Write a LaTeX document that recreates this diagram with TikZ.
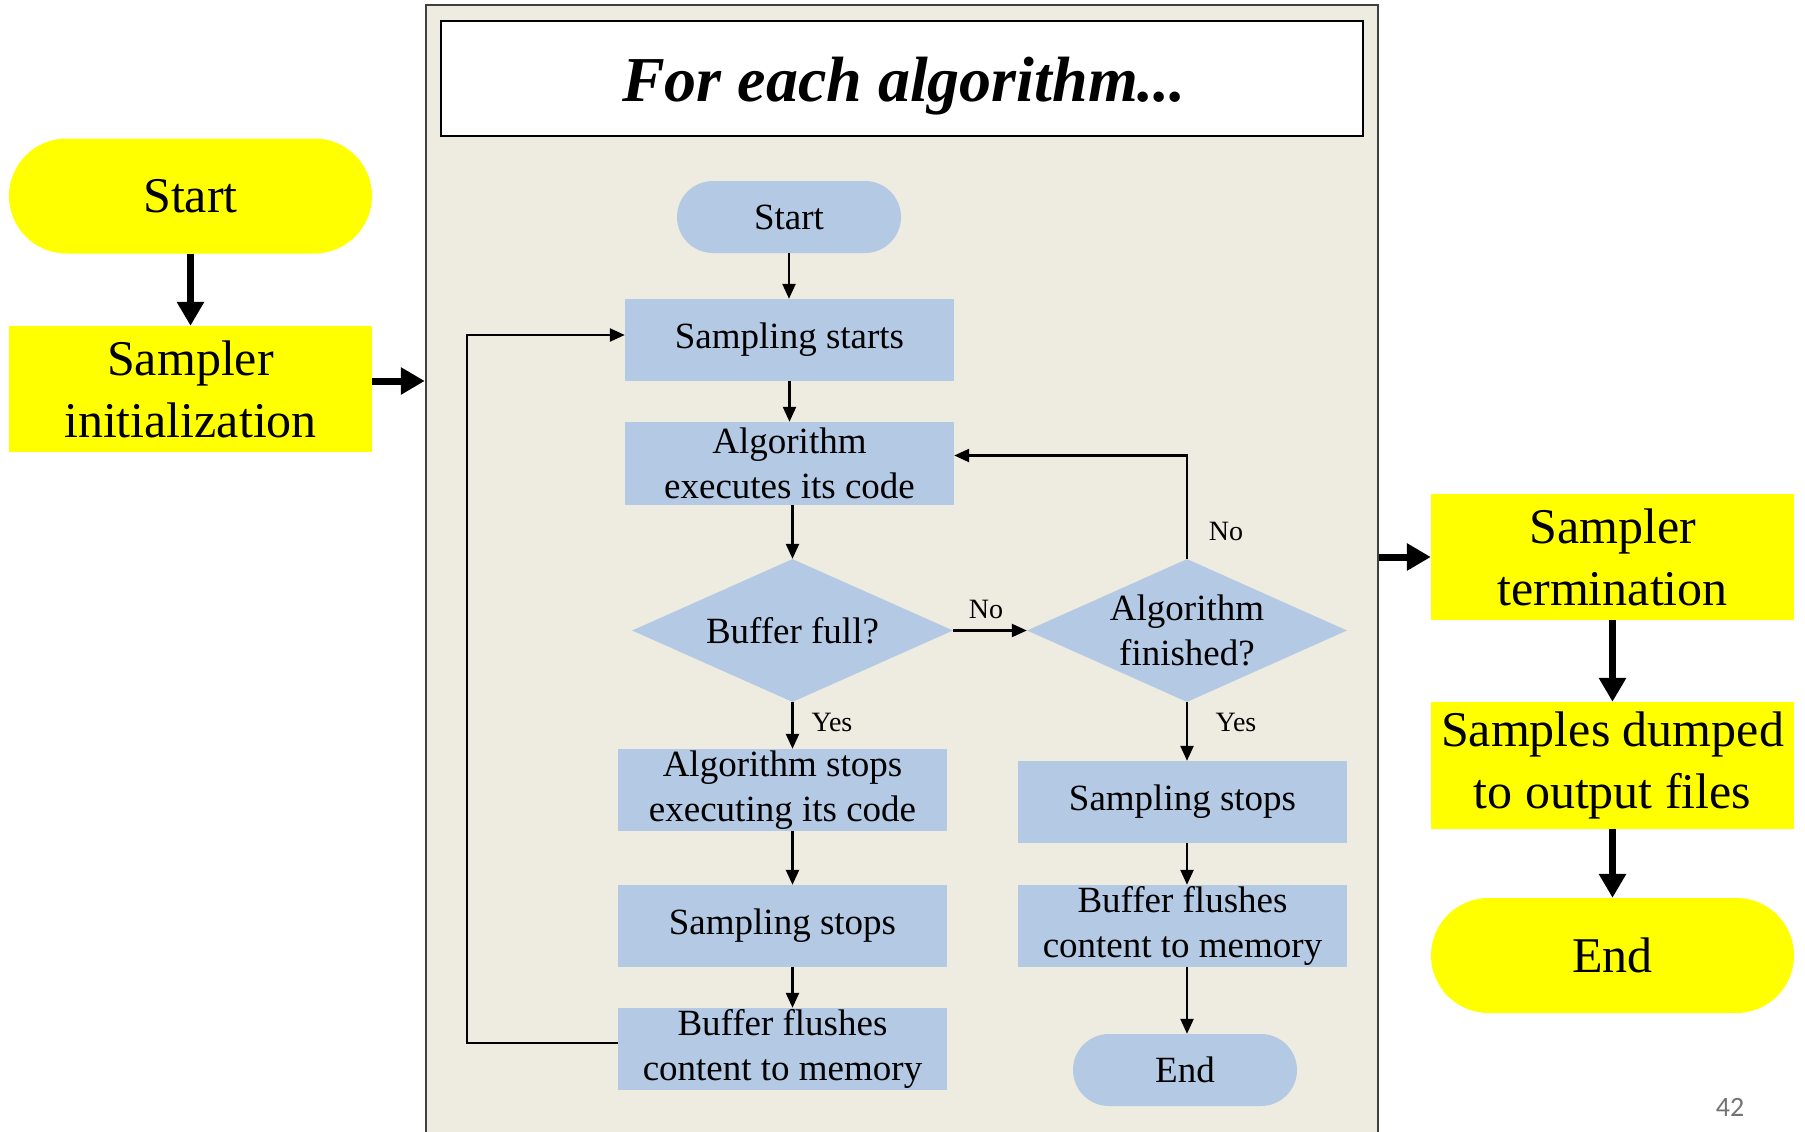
\documentclass[tikz,border=0pt]{standalone}
\usepackage{fontspec}
\setmainfont{Liberation Serif}
\newfontfamily\numfont{Carlito}
\usetikzlibrary{shapes.geometric,shapes.misc,arrows.meta}
\definecolor{ybox}{HTML}{FFFF00}
\definecolor{bbox}{HTML}{B4CAE4}
\definecolor{panelc}{HTML}{EEEBE1}
\begin{document}
\begin{tikzpicture}[x=1pt,y=-1pt,
  bigtxt/.style={font=\fontsize{50}{62}\selectfont, align=center},
  intxt/.style={font=\fontsize{37}{45}\selectfont, align=center},
  lbl/.style={font=\fontsize{28}{32}\selectfont, inner sep=0pt},
  ypill/.style={rounded rectangle, fill=ybox, inner sep=0pt, minimum width=363pt, minimum height=115pt, bigtxt},
  ybox/.style={rectangle, fill=ybox, inner sep=0pt, minimum width=363pt, minimum height=126pt, bigtxt},
  bpill/.style={rounded rectangle, fill=bbox, inner sep=0pt, minimum width=224pt, minimum height=72pt, intxt},
  bboxs/.style={rectangle, fill=bbox, inner sep=0pt, minimum width=329pt, minimum height=82pt, intxt},
  bdia/.style={diamond, fill=bbox, inner sep=0pt, aspect=2.24, minimum width=321pt, minimum height=143pt, intxt},
  arr/.style={-{Triangle[width=13pt,length=15pt]}, line width=2.4pt},
  bigarr/.style={-{Triangle[width=26pt,length=24pt]}, line width=7pt}
]
\useasboundingbox (0,0) rectangle (1805,1132);
\fill[white] (0,0) rectangle (1805,1132);

% panel
\node[rectangle, draw=black!75, line width=2.5pt, fill=panelc, inner sep=0pt,
      minimum width=952pt, minimum height=1150pt] (panel) at (902,580) {};
\node[rectangle, draw=black, line width=2.5pt, fill=white, inner sep=0pt,
      minimum width=922pt, minimum height=115pt] (title) at (902,78.5) {};
\node[font=\fontsize{64}{70}\selectfont\bfseries\itshape, inner sep=0pt] (titletxt) at (904,86) {For each algorithm...};

% left column
\node[ypill] (lstart) at (190.5,196) {Start};
\node[ybox] (linit) at (190.5,389) {Sampler\\initialization};
\draw[bigarr] (lstart.south) -- (linit.north);
\draw[bigarr] ([yshift=8pt]linit.east) -- ([yshift=8pt]linit.east -| panel.west);

% inner flow
\node[bpill] (istart) at (789,217) {Start};
\node[bboxs] (sstart) at (789.5,340) {Sampling starts};
\node[bboxs, minimum height=83pt] (aexec) at (789.5,463.5) {Algorithm\\executes its code};
\node[bdia] (bfull) at (792.5,630.5) {Buffer full?};
\node[bdia, minimum width=320pt] (afin) at (1187,630.5) {Algorithm\\finished?};
\node[bboxs] (astop) at (782.5,790) {Algorithm stops\\executing its code};
\node[bboxs] (sstopL) at (782.5,926) {Sampling stops};
\node[bboxs] (bflushL) at (782.5,1049) {Buffer flushes\\content to memory};
\node[bboxs] (sstopR) at (1182.5,802) {Sampling stops};
\node[bboxs] (bflushR) at (1182.5,926) {Buffer flushes\\content to memory};
\node[bpill] (iend) at (1185,1070) {End};
\coordinate (loopx) at (467,0);

\draw[arr] (istart.south) -- (istart.south |- sstart.north);
\draw[arr] (aexec.north |- sstart.south) -- (aexec.north);
\draw[arr] (bfull.north |- aexec.south) -- (bfull.north);
\draw[arr] (bfull.east) -- (afin.west);
\draw[arr] (afin.north) |- ([yshift=8pt]aexec.east);
\draw[arr] (bfull.south) -- (bfull.south |- astop.north);
\draw[arr] (bfull.south |- astop.south) -- (bfull.south |- sstopL.north);
\draw[arr] (bfull.south |- sstopL.south) -- (bfull.south |- bflushL.north);
\draw[arr] (bflushL.west) ++(0,-6) coordinate (lpA) -- (lpA -| loopx) |- ([yshift=5pt]sstart.west);
\draw[arr] (afin.south) -- (afin.south |- sstopR.north);
\draw[arr] (afin.south |- sstopR.south) -- (afin.south |- bflushR.north);
\draw[arr] (afin.south |- bflushR.south) -- (afin.south |- iend.north);

\node[lbl] (lno1) at (986,609) {No};
\node[lbl] (lno2) at (1226,531) {No};
\node[lbl] (lyes1) at (832,722) {Yes};
\node[lbl] (lyes2) at (1236,722) {Yes};

% right column
\node[ybox] (sterm) at (1612.5,557) {Sampler\\termination};
\node[ybox, minimum height=127pt] (sdump) at (1612.5,765.5) {Samples dumped\\to output files};
\node[ypill] (rend) at (1612.5,955.5) {End};
\draw[bigarr] (sterm.west -| panel.east) -- (sterm.west);
\draw[bigarr] (sterm.south) -- (sdump.north);
\draw[bigarr] (sdump.south) -- (rend.north);

\node[font=\numfont\fontsize{28}{32}\selectfont, text=black!55, inner sep=0pt] (pnum) at (1730,1107) {42};
\end{tikzpicture}
\end{document}
